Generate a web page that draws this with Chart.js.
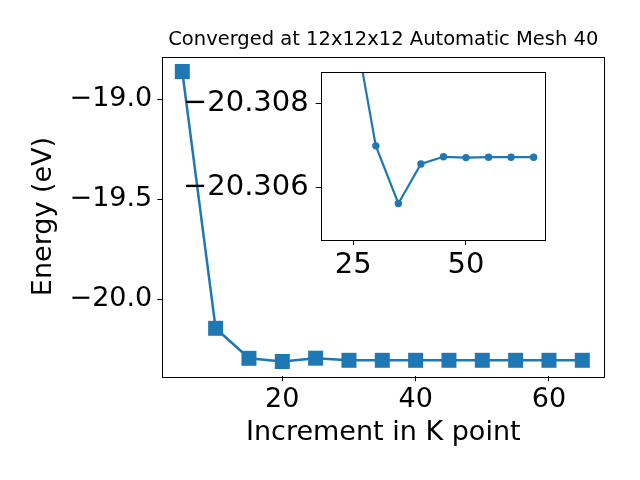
<!DOCTYPE html>
<html>
<head>
<meta charset="utf-8">
<script src="https://cdn.jsdelivr.net/npm/chart.js@4/dist/chart.umd.min.js"></script>
<style>
  html, body { margin: 0; padding: 0; background: #fff; }
  #wrap { position: relative; width: 640px; height: 480px; }
  #main { position: absolute; left: 0; top: 0; }
  #inset { position: absolute; left: 170px; top: 62px; }
</style>
</head>
<body>
<div id="wrap">
  <canvas id="main" width="640" height="480"></canvas>
  <canvas id="inset" width="390" height="225"></canvas>
</div>
<script>
// main curve
const kPoints = [5, 10, 15, 20, 25, 30, 35, 40, 45, 50, 55, 60, 65];
const energy = [-18.861, -20.145, -20.295, -20.311, -20.2945, -20.305, -20.305, -20.305, -20.305, -20.305, -20.305, -20.305, -20.305];

// zoomed inset
const insetK = [20, 25, 30, 35, 40, 45, 50, 55, 60, 65];
const insetEnergy = [-20.312, -20.3100, -20.3070, -20.30563, -20.30657, -20.30674, -20.30672, -20.30673, -20.30673, -20.30673];

const mainXTicks = [20, 40, 60];
const mainYTicks = [-20.0, -19.5, -19.0];
const insetXTicks = [25, 50];
const insetYTicks = [-20.308, -20.306];

const BLUE = '#1f77b4';
const FONT = 'DejaVu Sans';
const fmt = (v, d) => (v < 0 ? '\u2212' : '') + Math.abs(v).toFixed(d);
const toXY = (xs, ys) => xs.map((x, i) => ({x: x, y: ys[i]}));

// white plot background + black box around the plot area
const frame = {
  id: 'frame',
  beforeDraw(chart) {
    const a = chart.chartArea, ctx = chart.ctx;
    ctx.save();
    ctx.fillStyle = '#fff';
    ctx.fillRect(a.left, a.top, a.right - a.left, a.bottom - a.top);
    ctx.restore();
  },
  afterDraw(chart) {
    const a = chart.chartArea, ctx = chart.ctx;
    ctx.save();
    ctx.strokeStyle = '#000';
    ctx.lineWidth = 1;
    ctx.strokeRect(Math.round(a.left) + 0.5, Math.round(a.top) + 0.5,
      Math.round(a.right - a.left), Math.round(a.bottom - a.top));
    ctx.restore();
  }
};

function axis(opts) {
  return Object.assign({
    type: 'linear',
    grid: {drawOnChartArea: false, drawTicks: true, tickLength: 5, color: '#000', lineWidth: 1},
    border: {display: false},
  }, opts);
}

// fixed axis size, no extra room reserved for edge labels
const fitX = h => s => { s.height = h; s.paddingLeft = 0; s.paddingRight = 0; };
const fitY = w => s => { s.width = w; s.paddingTop = 0; s.paddingBottom = 0; };

Chart.defaults.font.family = FONT;
Chart.defaults.color = '#000';

new Chart(document.getElementById('main'), {
  type: 'line',
  data: {
    datasets: [{
      data: toXY(kPoints, energy),
      borderColor: BLUE,
      backgroundColor: BLUE,
      borderWidth: 2.5,
      pointStyle: 'rect',
      pointRadius: 10.6,
      pointBorderWidth: 0,
      pointBackgroundColor: BLUE,
      tension: 0,
      clip: false
    }]
  },
  options: {
    responsive: false,
    animation: false,
    events: [],
    layout: {padding: {left: 0, top: 0, right: 35.7, bottom: 0}},
    plugins: {
      legend: {display: false},
      tooltip: {enabled: false},
      title: {
        display: true,
        text: 'Converged at 12x12x12 Automatic Mesh 40',
        fullSize: false,
        font: {size: 19.5, weight: 'normal'},
        color: '#000',
        padding: {top: 28.5, bottom: 4.8}
      }
    },
    scales: {
      x: axis({
        min: 2, max: 68.3,
        afterBuildTicks: s => { s.ticks = mainXTicks.map(value => ({value})); },
        afterFit: fitX(103.7),
        ticks: {font: {size: 27}, color: '#000', padding: 2, maxRotation: 0, callback: v => String(v)},
        title: {display: true, text: 'Increment in K point', font: {size: 27}, color: '#000', padding: {top: 0, bottom: 31}}
      }),
      y: axis({
        min: -20.385, max: -18.787,
        afterBuildTicks: s => { s.ticks = mainYTicks.map(value => ({value})); },
        afterFit: fitY(162.3),
        ticks: {font: {size: 27}, color: '#000', padding: 5, callback: v => fmt(v, 1)},
        title: {display: true, text: 'Energy (eV)', font: {size: 27}, color: '#000', padding: {top: 28, bottom: 0}}
      })
    }
  },
  plugins: [frame]
});

new Chart(document.getElementById('inset'), {
  type: 'line',
  data: {
    datasets: [{
      data: toXY(insetK, insetEnergy),
      borderColor: BLUE,
      backgroundColor: BLUE,
      borderWidth: 2.2,
      pointStyle: 'circle',
      pointRadius: 3.7,
      pointBorderWidth: 0,
      pointBackgroundColor: BLUE,
      tension: 0
    }]
  },
  options: {
    responsive: false,
    animation: false,
    events: [],
    layout: {padding: {left: 0, top: 10.3, right: 15.7, bottom: 0}},
    plugins: {legend: {display: false}, tooltip: {enabled: false}, title: {display: false}},
    scales: {
      x: axis({
        min: 17.77, max: 67.37,
        afterBuildTicks: s => { s.ticks = insetXTicks.map(value => ({value})); },
        afterFit: fitX(47),
        ticks: {font: {size: 29}, color: '#000', padding: 3, maxRotation: 0, callback: v => String(v)}
      }),
      y: axis({
        min: -20.30875, max: -20.30476,
        reverse: true,
        afterBuildTicks: s => { s.ticks = insetYTicks.map(value => ({value})); },
        afterFit: fitY(150.7),
        ticks: {font: {size: 29}, color: '#000', padding: 7, callback: v => fmt(v, 3)}
      })
    }
  },
  plugins: [frame]
});
</script>
</body>
</html>
